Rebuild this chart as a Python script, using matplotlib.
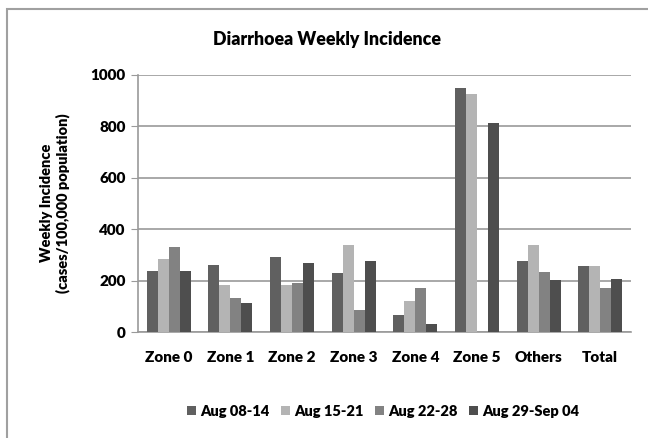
import numpy as np
import matplotlib.pyplot as plt
from matplotlib.patches import Rectangle

zones = ['Zone 0', 'Zone 1', 'Zone 2', 'Zone 3', 'Zone 4', 'Zone 5', 'Others', 'Total']
weeks = ['Aug 08-14', 'Aug 15-21', 'Aug 22-28', 'Aug 29-Sep 04']
aug08 = [238, 260, 290, 231, 67, 948, 278, 255]
aug15 = [285, 184, 184, 338, 120, 926, 338, 255]
aug22 = [332, 132, 192, 85, 172, 0, 232, 172]
aug29 = [238, 114, 267, 278, 31, 813, 202, 207]
colors = ['#606060', '#b4b4b4', '#828282', '#4e4e4e']

plt.rcParams['font.family'] = ['Lato', 'DejaVu Sans']
plt.rcParams['font.weight'] = 'heavy'

fig = plt.figure(figsize=(6.48, 4.38), dpi=100)
ax = fig.add_axes([138/648, 1-332/438, (631-138)/648, (332-75)/438])

x = np.arange(len(zones))
w = 0.179
for i, vals in enumerate([aug08, aug15, aug22, aug29]):
    ax.bar(x + (i-1.5)*w, vals, w, color=colors[i], label=weeks[i], zorder=3)

ax.set_xlim(-0.5, len(zones)-0.5)
ax.set_ylim(0, 1000)
ax.set_yticks([0, 200, 400, 600, 800, 1000])
ax.set_xticks(x)
ax.set_xticklabels(zones)
ax.yaxis.grid(True, color='#9a9a9a', linewidth=1.2, zorder=0)
for s in ['top', 'right']:
    ax.spines[s].set_visible(False)
ax.spines['left'].set_color('#9a9a9a')
ax.spines['bottom'].set_color('#9a9a9a')
ax.spines['left'].set_linewidth(1.2)
ax.spines['bottom'].set_linewidth(1.2)
ax.tick_params(axis='y', length=5, color='#9a9a9a', labelsize=11, pad=4)
ax.tick_params(axis='x', length=0, labelsize=11, pad=14)

fig.text(327/648, 1-40/438, 'Diarrhoea Weekly Incidence', ha='center', va='center',
         fontsize=12.8, fontweight='heavy')
fig.text(55/648, 1-203/438, 'Weekly Incidence\n(cases/100,000 population)', ha='center',
         va='center', rotation=90, fontsize=10.5, fontweight='heavy', linespacing=1.2)

ax.legend(loc='center', bbox_to_anchor=(383/648, 1-411/438), bbox_transform=fig.transFigure,
          ncol=4, frameon=False, fontsize=10.5, handlelength=0.6, handleheight=0.6,
          handletextpad=0.3, columnspacing=0.8)

fig.patches.append(Rectangle((7/648, -0.1), 1.1, 1-9/438+0.1, transform=fig.transFigure,
                             fill=False, edgecolor='#a0a0a0', linewidth=1.5))

fig.savefig('out.png', dpi=100)
